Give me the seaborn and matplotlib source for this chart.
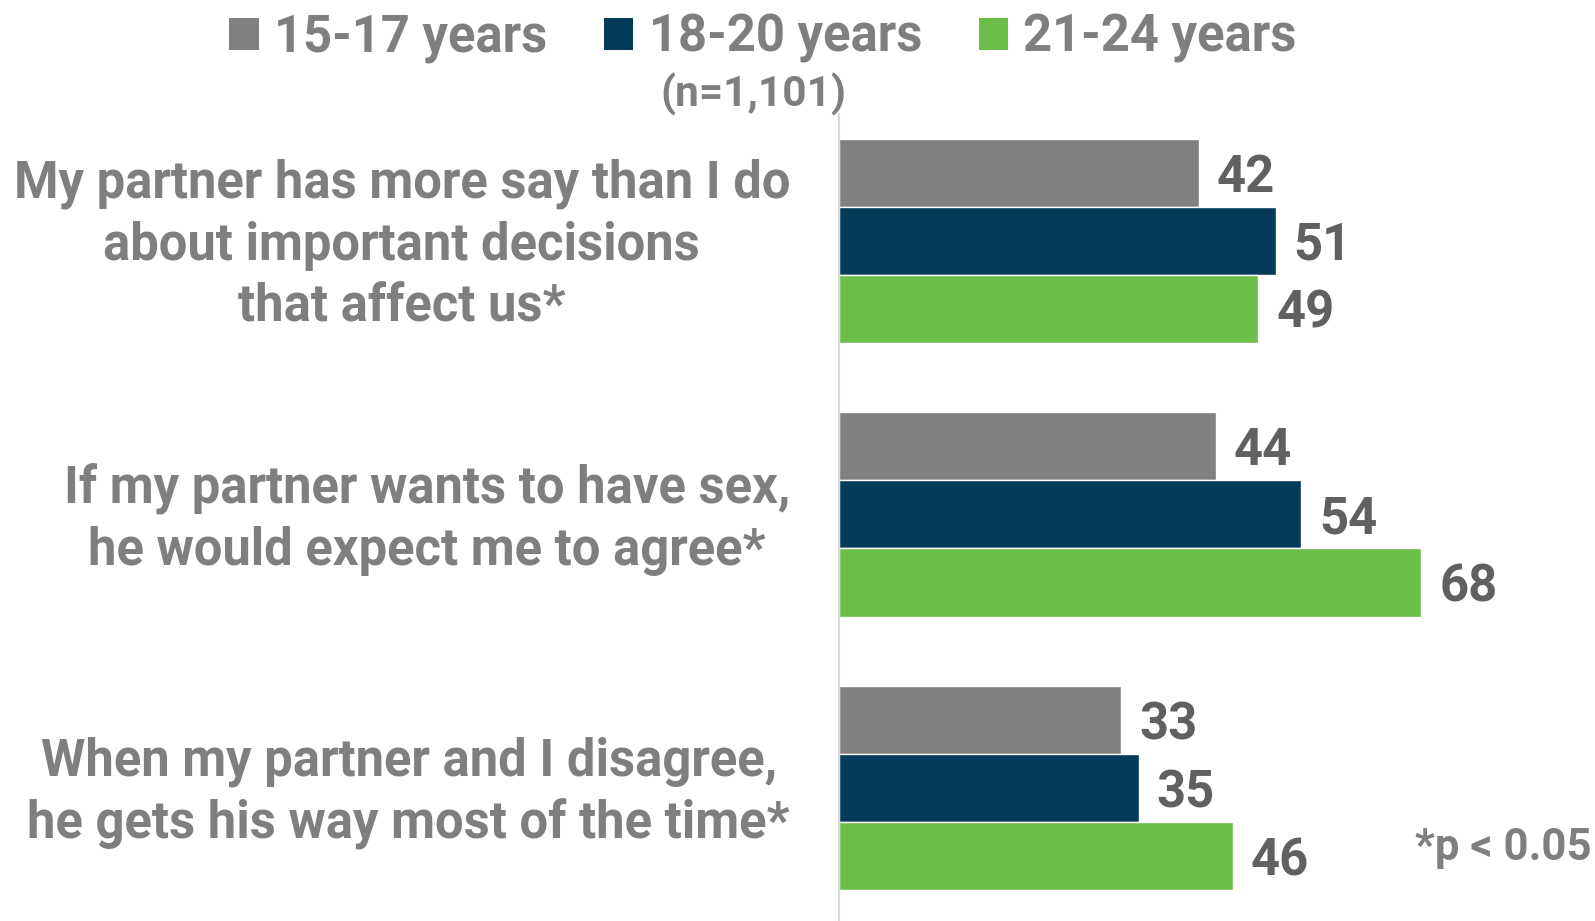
import matplotlib
matplotlib.use("Agg")
import matplotlib.pyplot as plt
import matplotlib.transforms as mtransforms
import seaborn as sns
import pandas as pd
from matplotlib.patches import Patch

# Survey items (y categories)
statements = [
    "My partner has more say than I do\nabout important decisions\nthat affect us*",
    "If my partner wants to have sex,\nhe would expect me to agree*",
    "When my partner and I disagree,\nhe gets his way most of the time*",
]
age_groups = ["15-17 years", "18-20 years", "21-24 years"]

# Percent agreeing, by age group
pct_15_17 = [42, 44, 33]
pct_18_20 = [51, 54, 35]
pct_21_24 = [49, 68, 46]

colors = ["#808082", "#043a5a", "#6cbe4a"]
label_gray = "#7f7f7f"
value_gray = "#606060"

rows = []
for grp, vals in zip(age_groups, [pct_15_17, pct_18_20, pct_21_24]):
    for stmt, v in zip(statements, vals):
        rows.append({"statement": stmt, "age": grp, "pct": v})
df = pd.DataFrame(rows)

sns.set_theme(style="white")
plt.rcParams["font.family"] = ["Roboto", "DejaVu Sans"]

W, H = 1595, 921
fig = plt.figure(figsize=(W / 100, H / 100), dpi=100)
ax_left, ax_right = 839, 1595
ax_top, ax_bottom = 114, 921
ax = fig.add_axes([ax_left / W, 1 - ax_bottom / H, (ax_right - ax_left) / W, (ax_bottom - ax_top) / H])

sns.barplot(data=df, y="statement", x="pct", hue="age", order=statements,
            hue_order=age_groups, palette=colors, orient="h", width=0.745,
            saturation=1, ax=ax, legend=False)

ax.set_xlim(0, (ax_right - ax_left) / 8.56)
ax.set_ylim(2.484, -0.462)
ax.set_xlabel("")
ax.set_ylabel("")
ax.set_xticks([])
for s in ["top", "right", "bottom"]:
    ax.spines[s].set_visible(False)
ax.spines["left"].set_color("#d9d9d9")
ax.spines["left"].set_linewidth(1.5)

# Category labels: right-aligned block, lines centred, left of the axis
ticks = ax.get_yticks()
ax.tick_params(axis="y", length=0, labelleft=False)
label_tf = mtransforms.blended_transform_factory(ax.transAxes, ax.transData) + \
    mtransforms.ScaledTranslation(-49 / 100, -5 / 100, fig.dpi_scale_trans)
for y, stmt in zip(ticks, statements):
    ax.text(0, y, stmt, transform=label_tf, ha="right", va="center", multialignment="center",
            fontsize=36.5, fontweight="bold", color=label_gray, linespacing=1.29)

# Value labels, nudged slightly below the bar centre
for cont in ax.containers:
    for t in ax.bar_label(cont, fmt="%d", padding=13, fontsize=36.5, fontweight="bold",
                          color=value_gray):
        t.xyann = (13, -3.6)

# Legend across the top
handles = [Patch(facecolor=c, edgecolor="none") for c in colors]
fig.legend(handles, age_groups, loc="center", bbox_to_anchor=(763 / W, 1 - 38 / H), ncol=3,
           frameon=False, handlelength=0.58, handleheight=0.58, handletextpad=0.3,
           columnspacing=1.12, prop={"size": 36.5, "weight": "bold"}, labelcolor=label_gray)

fig.text(753 / W, 1 - 94 / H, "(n=1,101)", ha="center", va="center", fontsize=30.5,
         fontweight="bold", color=label_gray)
fig.text(1592 / W, 1 - 848 / H, "*p < 0.05", ha="right", va="center", fontsize=31.5,
         fontweight="bold", color=label_gray)

fig.savefig("out.png", dpi=100)
